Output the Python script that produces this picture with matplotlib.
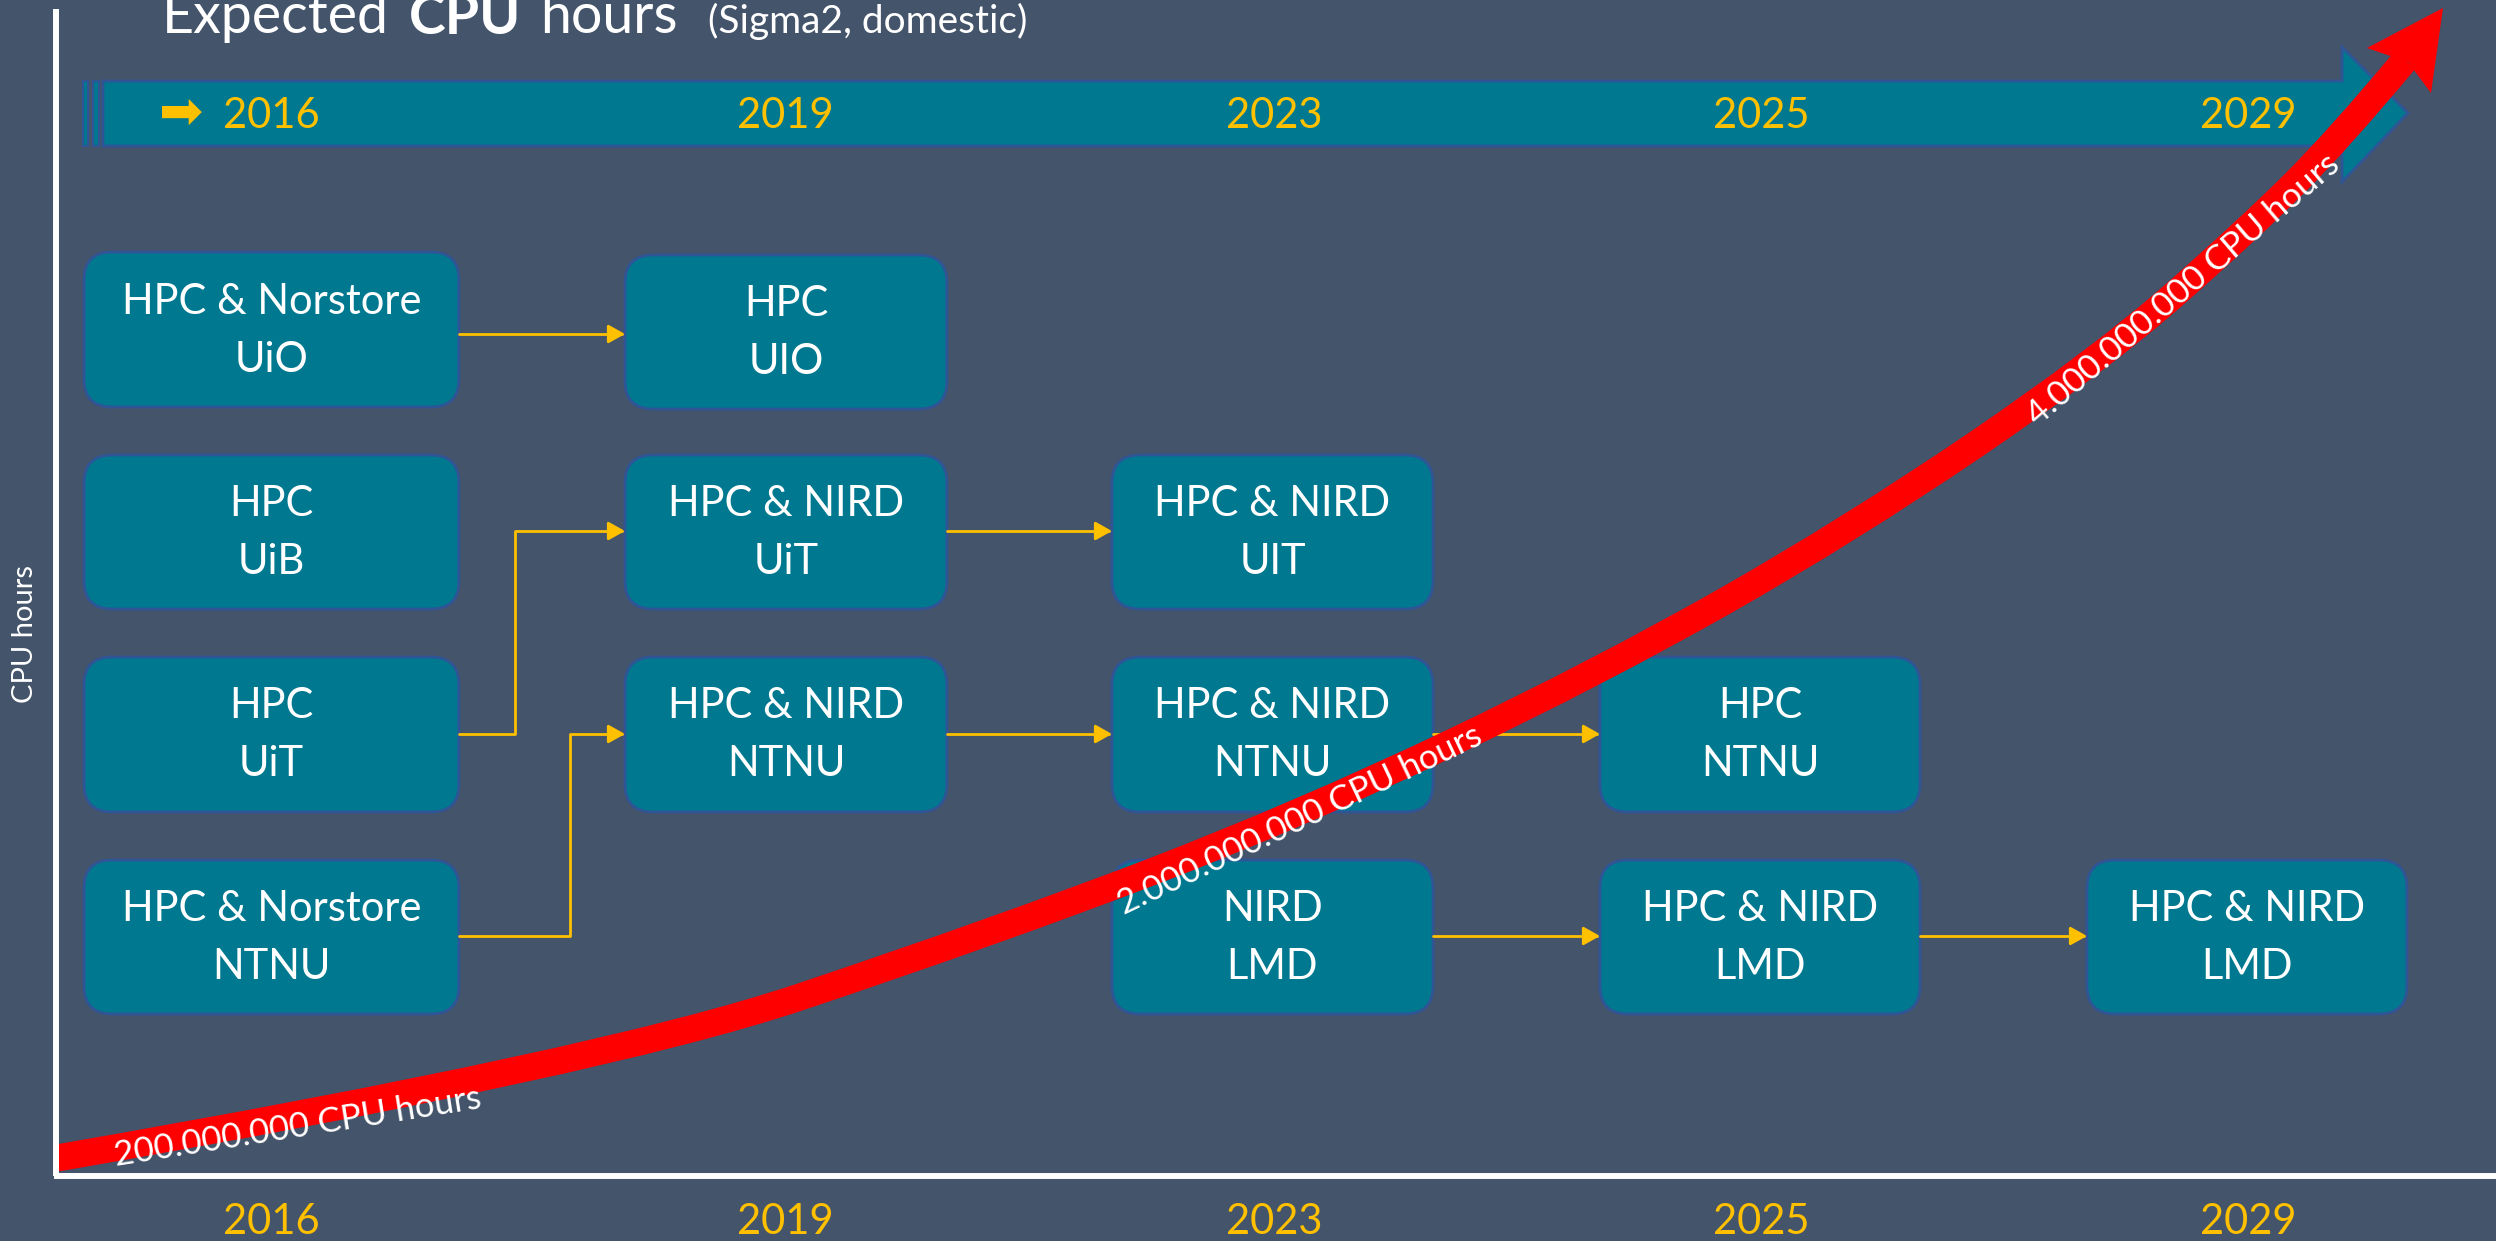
import numpy as np
import matplotlib.pyplot as plt
from matplotlib.patches import FancyBboxPatch, Polygon, PathPatch, FancyArrowPatch
from matplotlib.path import Path

plt.rcParams['font.family'] = ['Lato', 'DejaVu Sans']

# colours
bg = '#44546A'
teal = '#00788F'
edge = '#2F5597'
gold = '#FFC000'
red = '#FF0000'

# timeline
years = ['2016', '2019', '2023', '2025', '2029']
year_x = [271, 785, 1274, 1761, 2248]

# boxes: column, row, line 1, line 2
box_col = [0, 1, 0, 1, 2, 0, 1, 2, 3, 0, 2, 3, 4]
box_row = [0, 0, 1, 1, 1, 2, 2, 2, 2, 3, 3, 3, 3]
box_top = ['HPC & Norstore', 'HPC', 'HPC', 'HPC & NIRD', 'HPC & NIRD', 'HPC',
           'HPC & NIRD', 'HPC & NIRD', 'HPC', 'HPC & Norstore', 'NIRD',
           'HPC & NIRD', 'HPC & NIRD']
box_bottom = ['UiO', 'UIO', 'UiB', 'UiT', 'UIT', 'UiT', 'NTNU', 'NTNU', 'NTNU',
              'NTNU', 'LMD', 'LMD', 'LMD']
col_left = [84, 625, 1112, 1600, 2087]
col_right = [459, 947, 1433, 1920, 2407]
row_top = [252, 455, 657, 860]
row_bottom = [407, 609, 812, 1014]

# connectors (polylines between boxes)
links = [
    [(459, 334), (625, 334)],
    [(459, 734), (515, 734), (515, 531), (625, 531)],
    [(459, 936), (570, 936), (570, 734), (625, 734)],
    [(947, 531), (1112, 531)],
    [(947, 734), (1112, 734)],
    [(1433, 734), (1600, 734)],
    [(1433, 936), (1600, 936)],
    [(1920, 936), (2087, 936)],
]

# growth curve
curve_x = [57, 600, 1000, 1300, 1600, 1850, 2100, 2250, 2340, 2405]
curve_y = [1158, 1064, 930, 815, 672, 530, 360, 228, 138, 60]
curve_labels = ['200.000.000 CPU hours', '2.000.000.000 CPU hours', '4.000.000.000 CPU hours']
label_x = [298, 1300, 2183]
label_y = [1127, 820, 290]
label_rot = [9, 25.5, 40.5]

fig = plt.figure(figsize=(24.96, 12.41), dpi=100)
fig.patch.set_facecolor(bg)
ax = fig.add_axes([0, 0, 1, 1])
ax.set_xlim(0, 2496)
ax.set_ylim(1241, 0)
ax.axis('off')

# title (cut at the top edge, as in the slide)
t1 = ax.text(162, 33, 'Expected', color='white', fontsize=40, va='baseline', ha='left')
t2 = ax.annotate('CPU', xy=(1, 0), xycoords=t1, xytext=(14, 0), textcoords='offset points',
                 color='white', fontsize=40, fontweight='bold', va='bottom', ha='left')
t3 = ax.annotate('hours', xy=(1, 0), xycoords=t2, xytext=(14, 0), textcoords='offset points',
                 color='white', fontsize=40, va='bottom', ha='left')
ax.annotate('(Sigma2, domestic)', xy=(1, 0), xycoords=t3, xytext=(22, 2), textcoords='offset points',
            color='white', fontsize=28, va='bottom', ha='left')

# axes lines
ax.plot([56, 56], [9, 1176], color='white', lw=4.3, solid_capstyle='butt')
ax.plot([54, 2496], [1176, 1176], color='white', lw=4.3, solid_capstyle='butt')
ax.text(25, 634, 'CPU hours', color='white', fontsize=21, rotation=90, ha='center', va='center')

# timeline banner
for x0, x1 in [(83, 88), (93, 99)]:
    ax.add_patch(Polygon([(x0, 81), (x1, 81), (x1, 146), (x0, 146)], closed=True,
                         facecolor=teal, edgecolor=edge, lw=1.5))
banner = [(103, 81), (2342, 81), (2342, 47), (2408, 113), (2342, 182), (2342, 146), (103, 146)]
ax.add_patch(Polygon(banner, closed=True, facecolor=teal, edgecolor=edge, lw=2))
ax.text(181, 114, '\u27a1', color=gold, fontsize=38, ha='center', va='center',
        family=['DejaVu Sans'])
for yr, x in zip(years, year_x):
    ax.text(x, 116, yr, color=gold, fontsize=30, ha='center', va='center')
    ax.text(x, 1222, yr, color=gold, fontsize=30, ha='center', va='center')

# boxes
for c, r, top, bot in zip(box_col, box_row, box_top, box_bottom):
    x0, x1 = col_left[c], col_right[c]
    y0, y1 = row_top[r], row_bottom[r]
    if c == 1 and r == 0:
        y0, y1 = y0 + 3, y1 + 2
    ax.add_patch(FancyBboxPatch((x0, y0), x1 - x0, y1 - y0,
                                boxstyle='round,pad=0,rounding_size=28',
                                facecolor=teal, edgecolor=edge, lw=2))
    cx, cy = (x0 + x1) / 2, (y0 + y1) / 2
    ax.text(cx, cy - 28, top, color='white', fontsize=30, ha='center', va='center')
    ax.text(cx, cy + 30, bot, color='white', fontsize=30, ha='center', va='center')

# connectors
for pts in links:
    ax.add_patch(FancyArrowPatch(path=Path(pts), arrowstyle='-|>,head_length=0.5,head_width=0.28',
                                 mutation_scale=20, color=gold, lw=2))

# red growth arrow
pts = np.column_stack([curve_x, curve_y]).astype(float)
verts = [pts[0]]
codes = [Path.MOVETO]
for i in range(1, len(pts) - 2):
    verts += [pts[i], (pts[i] + pts[i + 1]) / 2]
    codes += [Path.CURVE3, Path.CURVE3]
verts += [pts[-2], pts[-1]]
codes += [Path.CURVE3, Path.CURVE3]
ax.add_patch(PathPatch(Path(verts, codes), facecolor='none', edgecolor=red, lw=19.5,
                       capstyle='butt', joinstyle='round'))
ax.add_patch(Polygon([(2367, 48), (2443, 8), (2431, 93), (2408, 62)], closed=True,
                     facecolor=red, edgecolor='none'))

for txt, x, y, rot in zip(curve_labels, label_x, label_y, label_rot):
    ax.text(x, y, txt, color='white', fontsize=25, rotation=rot, rotation_mode='anchor',
            ha='center', va='center')

fig.savefig('out.png', dpi=100, facecolor=bg)
